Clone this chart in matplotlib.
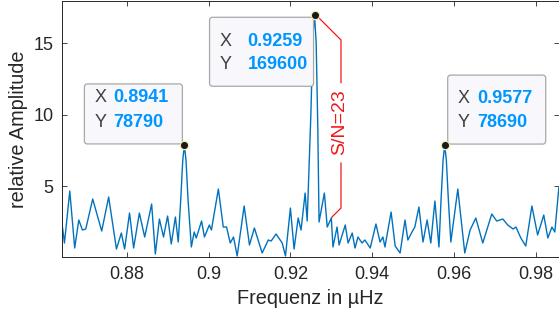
import matplotlib
matplotlib.use("Agg")
import matplotlib.pyplot as plt
import matplotlib.transforms as mtransforms
from matplotlib.patches import FancyBboxPatch

plt.rcParams['font.family'] = ['Liberation Sans', 'DejaVu Sans']

# spectrum (relative amplitude = Y / 10000)
freq = [0.8640, 0.8648, 0.8661, 0.8673, 0.8683, 0.8692, 0.8700, 0.8717, 0.8739, 0.8756,
        0.8775, 0.8787, 0.8795, 0.8807, 0.8817, 0.8831, 0.8844, 0.8861, 0.8870, 0.8880,
        0.8890, 0.8900, 0.8909, 0.8919, 0.8926, 0.8932, 0.8937, 0.8941, 0.8945, 0.8950,
        0.8958, 0.8965, 0.8970, 0.8983, 0.8990, 0.9002, 0.9007, 0.9024, 0.9036, 0.9044,
        0.9053, 0.9061, 0.9070, 0.9087, 0.9100, 0.9112, 0.9131, 0.9146, 0.9153, 0.9165,
        0.9180, 0.9188, 0.9200, 0.9209, 0.9219, 0.9226, 0.9236, 0.9241, 0.9250, 0.9255,
        0.9259, 0.9263, 0.9267, 0.9270, 0.9283, 0.9290, 0.9300, 0.9304, 0.9314, 0.9319,
        0.9334, 0.9341, 0.9351, 0.9358, 0.9365, 0.9375, 0.9382, 0.9395, 0.9409, 0.9419,
        0.9426, 0.9431, 0.9446, 0.9456, 0.9468, 0.9480, 0.9487, 0.9497, 0.9504, 0.9514,
        0.9524, 0.9534, 0.9543, 0.9553, 0.9563, 0.9568, 0.9573, 0.9577, 0.9581, 0.9586,
        0.9592, 0.9609, 0.9626, 0.9639, 0.9653, 0.9670, 0.9692, 0.9704, 0.9719, 0.9731,
        0.9744, 0.9751, 0.9763, 0.9775, 0.9790, 0.9804, 0.9819, 0.9829, 0.9839, 0.9846,
        0.9856]
amp = [2.83, 1.01, 4.65, 0.66, 2.62, 1.92, 1.99, 4.09, 1.85, 4.23,
       0.59, 1.71, 0.59, 3.11, 0.66, 3.11, 1.43, 3.74, 0.24, 2.69,
       1.43, 2.90, 0.94, 2.83, 1.08, 4.0, 6.8, 7.879, 6.8, 4.0,
       0.73, 1.78, 1.36, 2.55, 1.43, 2.27, 1.92, 4.79, 2.13, 2.13,
       1.01, 1.43, 0.10, 3.60, 0.87, 2.06, 0.31, 1.22, 1.15, 1.64,
       1.01, 0.10, 3.46, 0.59, 2.76, 1.92, 4.51, 2.55, 10.0, 15.5,
       16.96, 15.0, 9.0, 2.48, 4.51, 2.13, 2.76, 0.73, 2.13, 0.87,
       2.27, 1.01, 1.71, 0.66, 1.43, 1.01, 1.22, 0.66, 2.34, 1.08,
       1.43, 0.73, 3.18, 0.80, 0.31, 2.62, 1.22, 1.78, 2.13, 3.53,
       1.08, 2.62, 1.01, 3.95, 0.73, 4.0, 6.8, 7.869, 6.8, 4.0,
       1.08, 4.79, 0.31, 1.92, 2.76, 1.01, 3.04, 2.55, 2.69, 2.27,
       1.99, 2.13, 1.36, 0.80, 3.60, 1.57, 2.97, 1.36, 2.13, 1.78,
       4.93]

# data tips
tip_x = [0.8941, 0.9259, 0.9577]
tip_y = [78790, 169600, 78690]
tip_xlabel = ['0.8941', '0.9259', '0.9577']
tip_ylabel = ['78790', '169600', '78690']

# signal to noise bracket
sn_x = [0.92706, 0.93236, 0.93236]
sn_y = [16.75, 15.23, 12.24]
sn_x2 = [0.93236, 0.93236, 0.93009]
sn_y2 = [6.61, 3.46, 2.81]
sn_text = 'S/N=23'

xticks = [0.88, 0.90, 0.92, 0.94, 0.96, 0.98]
xticklabels = ['0.88', '0.9', '0.92', '0.94', '0.96', '0.98']
yticks = [5, 10, 15]

dark = '#262626'
blue = '#0072BD'
tipblue = '#0096FF'

fig = plt.figure(figsize=(5.59, 3.22), dpi=100)
ax = fig.add_axes([62 / 559, 65 / 322, 496.5 / 559, 256 / 322])

ax.plot(freq, amp, color=blue, lw=1.0, solid_joinstyle='round', zorder=2)
ax.set_xlim(0.8642, 0.9855)
ax.set_ylim(0.03, 17.96)

ax.set_xticks(xticks)
ax.set_xticklabels(xticklabels)
ax.set_yticks(yticks)
ax.tick_params(axis='both', direction='in', length=3.6, width=0.6, colors=dark,
               labelsize=13, top=True, right=True)
ax.tick_params(axis='x', pad=6.5)
ax.tick_params(axis='y', pad=6)
for s in ax.spines.values():
    s.set_color(dark)
    s.set_linewidth(0.7)

ax.set_xlabel('Frequenz in µHz', fontsize=14.3, color=dark, labelpad=4)
ax.set_ylabel('relative Amplitude', fontsize=14.3, color=dark, labelpad=4)

# S/N marker
ax.plot(sn_x, sn_y, color='#F01818', lw=0.9, zorder=3)
ax.plot(sn_x2, sn_y2, color='#F01818', lw=0.9, zorder=3)
ax.text(0.93212, 9.48, sn_text, rotation=90, ha='center', va='center',
        color='#F01818', fontsize=14)

# data tip boxes: (x0, y0, w, h) in pixels relative to marker, text x, line y's, value x
boxes = [(-100, 1, 98, 60, -90, 47, 22.5, -71),
         (-105, -71, 104, 69, -95, -26, -49, -67),
         (3, 1, 98, 69, 13, 47, 23, 33)]

for i in range(3):
    yv = tip_y[i] / 10000.0
    off = mtransforms.ScaledTranslation(tip_x[i], yv, ax.transData)
    tr = mtransforms.IdentityTransform() + off
    x0, y0, w, h, tx, ly1, ly2, vx = boxes[i]
    p = FancyBboxPatch((x0, y0), w, h, boxstyle='round,pad=0,rounding_size=3',
                       transform=tr, fc='#F8F8FC', ec='#A8A8A8', lw=0.9,
                       zorder=5, clip_on=False)
    ax.add_patch(p)
    ax.text(tx, ly1, 'X', transform=tr, va='center', ha='left', fontsize=13,
            color='#404040', zorder=6)
    ax.text(tx, ly2, 'Y', transform=tr, va='center', ha='left', fontsize=13,
            color='#404040', zorder=6)
    ax.text(vx, ly1, tip_xlabel[i], transform=tr, va='center', ha='left', fontsize=13,
            color=tipblue, fontweight='bold', zorder=6)
    ax.text(vx, ly2, tip_ylabel[i], transform=tr, va='center', ha='left', fontsize=13,
            color=tipblue, fontweight='bold', zorder=6)
    ax.plot([tip_x[i]], [yv], 'o', ms=6, mfc='#1a1a1a', mec='#F2ECB8', mew=0.9,
            zorder=7, clip_on=False)

fig.savefig('out.png', dpi=100)
